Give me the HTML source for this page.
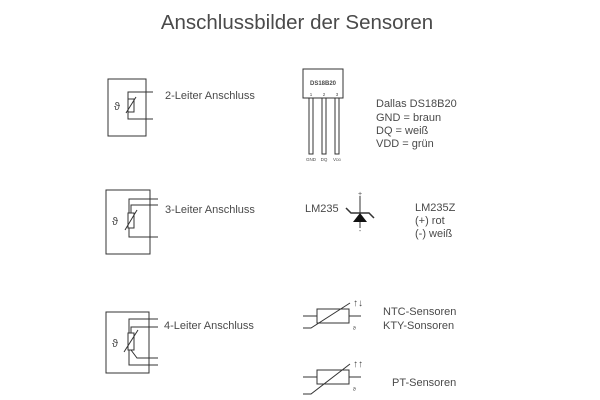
<!DOCTYPE html>
<html><head><meta charset="utf-8"><style>
body{margin:0;background:#fff}
svg{display:block}
text{font-family:"Liberation Sans",sans-serif;fill:#4a4a4a}
</style></head><body>
<svg width="600" height="400" viewBox="0 0 600 400">
<text x="297" y="29" font-size="20.5" text-anchor="middle" fill="#555">Anschlussbilder der Sensoren</text>
<g stroke="#333" stroke-width="1" fill="none">
<rect x="108" y="79" width="38" height="57"/>
<path d="M153 92H128V119H153"/>
<rect x="128" y="99" width="6" height="13" fill="#fff"/>
<path d="M126 113L136 97"/>
<rect x="106" y="190" width="44" height="64"/>
<path d="M158 199H129V237H158"/>
<path d="M131 213V205H158"/>
<rect x="128" y="213" width="6" height="15" fill="#fff"/>
<path d="M125 230L137 210"/>
<rect x="106" y="312" width="43" height="61"/>
<path d="M158 319H129V365H158"/>
<path d="M131 333V327H158"/>
<path d="M131 350L137 358H158"/>
<rect x="128" y="333" width="6" height="17" fill="#fff"/>
<path d="M124 352L138 330"/>
<rect x="303" y="69" width="40" height="29"/>
<rect x="309" y="98" width="4" height="56"/>
<rect x="322" y="98" width="4" height="56"/>
<rect x="335" y="98" width="4" height="56"/>
<path d="M360 196V228"/>
<path d="M346 208L351 213H369L374 218" stroke-width="1.5"/>
<rect x="317" y="309" width="32" height="14"/>
<path d="M303 316H317M349 316H361"/>
<path d="M303 328H311L350 303"/>
<rect x="317" y="370" width="32" height="14"/>
<path d="M303 377H317M349 377H361"/>
<path d="M303 394H311L350 364"/>
</g>
<polygon points="360,213 353,222 367,222" fill="#111"/>
<text x="117" y="110" font-size="11" text-anchor="middle">ϑ</text>
<text x="115" y="225" font-size="11" text-anchor="middle">ϑ</text>
<text x="115" y="347" font-size="11" text-anchor="middle">ϑ</text>
<text x="165" y="99" font-size="11">2-Leiter Anschluss</text>
<text x="165" y="213" font-size="11">3-Leiter Anschluss</text>
<text x="164" y="329" font-size="11">4-Leiter Anschluss</text>
<text x="323" y="85" font-size="6" font-weight="bold" text-anchor="middle" fill="#222">DS18B20</text>
<text x="311" y="96" font-size="4.5" text-anchor="middle">1</text>
<text x="324" y="96" font-size="4.5" text-anchor="middle">2</text>
<text x="337" y="96" font-size="4.5" text-anchor="middle">3</text>
<text x="311" y="161" font-size="4.5" text-anchor="middle">GND</text>
<text x="324" y="161" font-size="4.5" text-anchor="middle">DQ</text>
<text x="337" y="161" font-size="4.5" text-anchor="middle">V<tspan font-size="3.5">DD</tspan></text>
<g font-size="11">
<text x="376" y="107">Dallas DS18B20</text>
<text x="376" y="121">GND = braun</text>
<text x="376" y="134">DQ = weiß</text>
<text x="376" y="147">VDD = grün</text>
<text x="305" y="212">LM235</text>
<text x="415" y="211">LM235Z</text>
<text x="415" y="224">(+) rot</text>
<text x="415" y="237">(-) weiß</text>
<text x="383" y="315">NTC-Sensoren</text>
<text x="383" y="329">KTY-Sonsoren</text>
<text x="392" y="386">PT-Sensoren</text>
</g>
<text x="360" y="196" font-size="7" text-anchor="middle">+</text>
<text x="360" y="233" font-size="7" text-anchor="middle">-</text>
<text x="353" y="306" font-size="10" font-weight="bold" fill="#222">↑↓</text>
<text x="353" y="367" font-size="10" font-weight="bold" fill="#222">↑↑</text>
<text x="353" y="330" font-size="5">ϑ</text>
<text x="353" y="391" font-size="5">ϑ</text>
</svg>
</body></html>
